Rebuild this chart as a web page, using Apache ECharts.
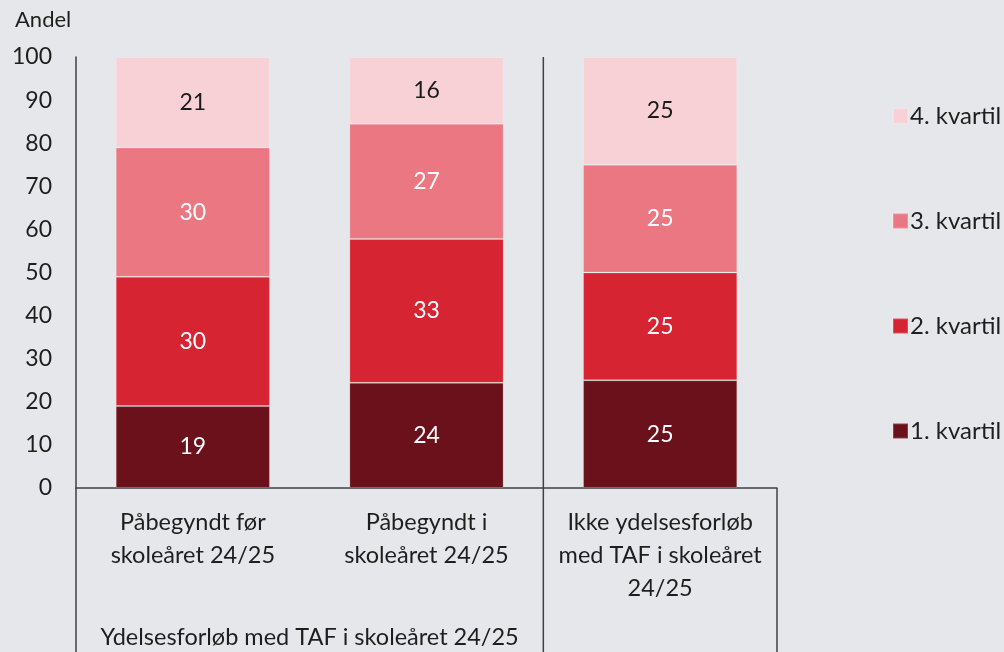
<!DOCTYPE html>
<html>
<head>
<meta charset="utf-8">
<script src="https://cdn.jsdelivr.net/npm/echarts@6/dist/echarts.min.js"></script>
<style>
  html, body { margin: 0; padding: 0; background: #e6e7ea; }
  #chart { width: 1004px; height: 652px; }
</style>
</head>
<body>
<div id="chart"></div>
<script>
// data
const categories = [
  'Påbegyndt før\nskoleåret 24/25',
  'Påbegyndt i\nskoleåret 24/25',
  'Ikke ydelsesforløb\nmed TAF i skoleåret\n24/25'
]
const groupLabel = 'Ydelsesforløb med TAF i skoleåret 24/25'
const seriesNames = ['1. kvartil', '2. kvartil', '3. kvartil', '4. kvartil']
const kvartil1 = [19, 24.4, 25]
const kvartil2 = [30, 33.4, 25]
const kvartil3 = [30, 26.7, 25]
const kvartil4 = [21, 15.5, 25]
const yTicks = [0, 100, 10]   // min, max, interval

const colors = ['#6b111b', '#d72433', '#eb7783', '#f8d1d6']
const labelColors = ['#ffffff', '#ffffff', '#ffffff', '#1a1a1a']
const FONT = 'Lato'
const TEXT = '#1e1e1e'
const LINE = '#404045'

const chart = echarts.init(document.getElementById('chart'))

const values = [kvartil1, kvartil2, kvartil3, kvartil4]

function setOptions() {
  const options = {
    backgroundColor: '#e6e7ea',
    textStyle: { fontFamily: FONT },
    animation: false,
    grid: {
      left: 76,
      right: 227,
      top: 57,
      bottom: 164,
      containLabel: false
    },
    legend: {
      orient: 'vertical',
      left: 887,
      top: 99,
      itemWidth: 15,
      itemHeight: 15,
      itemGap: 81,
      icon: 'rect',
      data: seriesNames.slice().reverse(),
      textStyle: {
        fontFamily: FONT,
        fontSize: 24,
        lineHeight: 24,
        color: TEXT,
        padding: [0, 0, 0, -3]
      }
    },
    xAxis: {
      type: 'category',
      data: categories,
      axisLine: { lineStyle: { color: LINE, width: 1.5 } },
      axisTick: { show: false },
      axisLabel: {
        interval: 0,
        margin: 18,
        fontFamily: FONT,
        fontSize: 23.5,
        lineHeight: 33,
        color: TEXT,
        verticalAlign: 'top'
      }
    },
    yAxis: {
      type: 'value',
      min: yTicks[0],
      max: yTicks[1],
      interval: yTicks[2],
      splitLine: { show: false },
      axisTick: { show: false },
      axisLine: { show: true, lineStyle: { color: LINE, width: 1.5 } },
      axisLabel: {
        margin: 24,
        fontFamily: FONT,
        fontSize: 23,
        color: TEXT
      }
    },
    series: seriesNames.map((name, i) => ({
      name: name,
      type: 'bar',
      stack: 'total',
      barWidth: '66%',
      data: values[i],
      itemStyle: {
        color: colors[i],
        borderColor: 'rgba(255,255,255,0.2)',
        borderWidth: 1
      },
      label: {
        show: true,
        position: 'inside',
        fontFamily: FONT,
        fontSize: 23,
        color: labelColors[i],
        formatter: p => Math.round(p.value)
      }
    }))
  }
  chart.setOption(options)

  // group frame lines and group label below the axis
  const top = chart.convertToPixel({ yAxisIndex: 0 }, yTicks[1])
  const base = chart.convertToPixel({ yAxisIndex: 0 }, yTicks[0])
  const c0 = chart.convertToPixel({ xAxisIndex: 0 }, categories[0])
  const c1 = chart.convertToPixel({ xAxisIndex: 0 }, categories[1])
  const c2 = chart.convertToPixel({ xAxisIndex: 0 }, categories[2])
  const step = c1 - c0
  const left = c0 - step / 2
  const sep = (c1 + c2) / 2
  const right = c2 + step / 2
  const bottom = 652
  const ls = { stroke: LINE, lineWidth: 1.5 }
  chart.setOption({
    graphic: [
      { type: 'line', shape: { x1: left, y1: base, x2: left, y2: bottom }, style: ls },
      { type: 'line', shape: { x1: sep, y1: top, x2: sep, y2: bottom }, style: ls },
      { type: 'line', shape: { x1: right, y1: base, x2: right, y2: bottom }, style: ls },
      {
        type: 'text',
        x: (left + sep) / 2,
        y: 637,
        style: {
          text: groupLabel,
          fontFamily: FONT,
          fontSize: 23.5,
          fill: TEXT,
          align: 'center',
          verticalAlign: 'middle'
        }
      },
      {
        type: 'text',
        x: 15,
        y: 20,
        style: {
          text: 'Andel',
          font: '22px Lato',
          fill: TEXT,
          align: 'left',
          verticalAlign: 'middle'
        }
      }
    ]
  })
}

setOptions()
</script>
</body>
</html>
